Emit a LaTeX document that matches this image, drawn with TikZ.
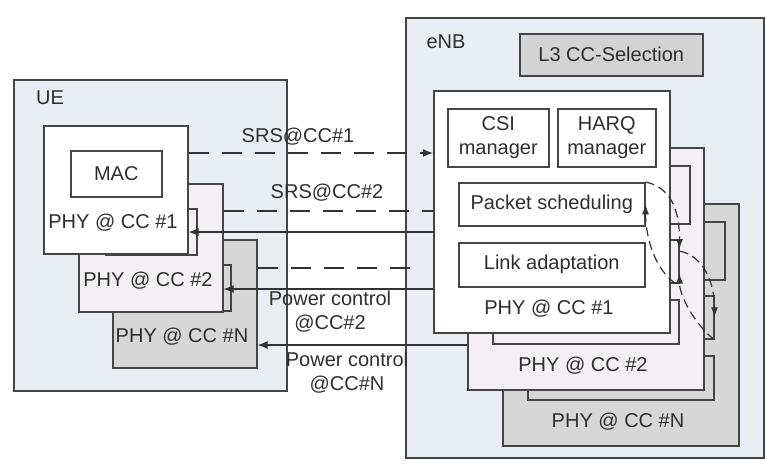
\documentclass[tikz,border=0pt]{standalone}
\usepackage{fontspec}
\setmainfont{Liberation Sans}
\usetikzlibrary{arrows.meta}
\definecolor{areafill}{HTML}{E9EEF4}
\definecolor{layertwo}{HTML}{F4EFF4}
\definecolor{layerN}{HTML}{D7D7D7}
\definecolor{selfill}{HTML}{D3D3D3}
\definecolor{edgegray}{HTML}{454545}

\begin{document}
\begin{tikzpicture}[
    x=1pt, y=-1pt,
    font=\fontsize{20}{24}\selectfont,
    every node/.style={text=black!82},
    box/.style={
        rectangle,
        draw=edgegray,
        line width=1.5pt,
        anchor=north west,
        inner sep=0pt,
        align=center
    },
    area/.style={box, fill=areafill},
    sig/.style={draw=black!80, line width=1.4pt},
    srs/.style={sig, dash pattern=on 20pt off 13pt},
    feedback/.style={sig, line width=1.2pt, dash pattern=on 9pt off 5pt, -{Latex[length=10pt,width=7pt]}},
    >={Latex[length=10pt,width=8pt]}
]
\useasboundingbox (0,0) rectangle (765,467);

% UE side
\node[area, minimum width=273, minimum height=311] (ue) at (13,79) {};
\node (uelbl) at (50,98) {UE};
\foreach \i/\dx/\dy/\col/\lbl in {3/69/114/layerN/N, 2/35/58/layertwo/2, 1/0/0/white/1} {
    \node[box, fill=\col, minimum width=144, minimum height=128] (u\i) at (43+\dx,125+\dy) {};
    \node[box, fill=\col, minimum width=91, minimum height=46] (mac\i) at (70+\dx,150+\dy) {\ifnum\i=1 MAC\fi};
    \node (ulbl\i) at (113+\dx,223+\dy) {PHY @ CC \#\lbl};
}

% eNB side
\node[area, minimum width=358, minimum height=440] (enb) at (405,17) {};
\node (enblbl) at (446,42) {eNB};
\node[box, fill=selfill, minimum width=183, minimum height=42] (l3) at (519,33) {L3 CC-Selection};
\foreach \i/\dx/\dy/\col/\lbl in {3/69/113/layerN/N, 2/34/57/layertwo/2, 1/0/0/white/1} {
    \node[box, fill=\col, minimum width=236, minimum height=242] (e\i) at (433+\dx,90+\dy) {};
    \node[box, fill=\col, minimum width=101, minimum height=58] (csi\i) at (447+\dx,108+\dy) {\ifnum\i=1 CSI\\manager\fi};
    \node[box, fill=\col, minimum width=98, minimum height=58] (harq\i) at (557+\dx,108+\dy) {\ifnum\i=1 HARQ\\manager\fi};
    \node[box, fill=\col, minimum width=186, minimum height=43] (ps\i) at (458+\dx,182+\dy) {\ifnum\i=1 Packet scheduling\fi};
    \node[box, fill=\col, minimum width=186, minimum height=44] (la\i) at (458+\dx,242+\dy) {\ifnum\i=1 Link adaptation\fi};
    \node (elbl\i) at (549+\dx,309+\dy) {PHY @ CC \#\lbl};
}

% scheduling loop across the carriers
\draw[feedback] (ps1.north east) .. controls +(30,6) and +(0,-30) .. ([yshift=-10pt]ps2.north east);
\draw[feedback] ([yshift=-12pt]ps2.north east) .. controls +(24,5) and +(0,-35) .. (ps3.east);
\draw[feedback] (ps3.south east) .. controls +(-15,-10) and +(0,25) .. ([yshift=10pt]ps2.south east);
\draw[feedback] ([xshift=-4pt]ps2.south east) .. controls +(-22,-15) and +(0,30) .. (ps1.east);

% signalling between UE and eNB
\coordinate (ysrsone) at (0,153);
\coordinate (ysrstwo) at (0,211);
\coordinate (ypcone) at (0,232);
\coordinate (ysrsN) at (0,268);
\coordinate (ypctwo) at (0,289);
\coordinate (ypcN) at (0,345);
\coordinate (srsNend) at (420,268);

\draw[srs, ->] (u1.east |- ysrsone) -- (e1.west |- ysrsone);
\draw[srs] (u2.east |- ysrstwo) -- (e1.west |- ysrstwo);
\draw[sig, ->] (e1.west |- ypcone) -- (u1.east |- ypcone);
\draw[srs] (u3.east |- ysrsN) -- (srsNend);
\draw[sig, ->] (e1.west |- ypctwo) -- (u2.east |- ypctwo);
\draw[sig, ->] (e2.west |- ypcN) -- (u3.east |- ypcN);

\node (srsonelbl) at (298,137) {SRS@CC\#1};
\node (srstwolbl) at (327,193) {SRS@CC\#2};
\node[align=center] (pctwolbl) at (330,312) {Power control\\@CC\#2};
\node[align=center] (pcNlbl) at (347,373) {Power control\\@CC\#N};

\end{tikzpicture}
\end{document}
